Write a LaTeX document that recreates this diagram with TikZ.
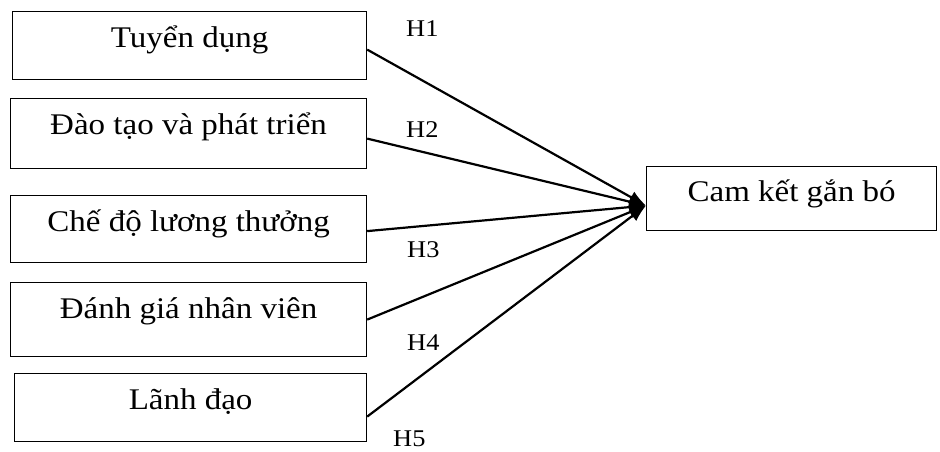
\documentclass[tikz,border=0pt]{standalone}
\usepackage{fontspec}
\setmainfont{Liberation Serif}
\newfontfamily\boxfont[FakeStretch=1.1]{Liberation Serif}
\usetikzlibrary{arrows.meta,positioning}
\tikzstyle{factor}=[
	rectangle,
	draw,
	line width=1.2pt,
	inner sep=0pt,
	anchor=north west,
	minimum width=356pt,
	text height=36pt,
	font=\boxfont\fontsize{30}{36}\selectfont
]
\tikzstyle{hyp}=[
	anchor=base west,
	inner sep=0pt,
	font=\boxfont\fontsize{24}{28}\selectfont
]
\tikzstyle{link}=[
	-{Latex[length=17pt,width=13pt]},
	line width=2.2pt
]

\begin{document}
\begin{tikzpicture}[x=1pt,y=-1pt]
\useasboundingbox (0,0) rectangle (940,451);
\node [factor, minimum width=354pt, text depth=32pt] (TuyenDung) at (12,11) {Tuyển dụng};
\node [factor, text depth=34pt] (DaoTao) at (10,98) {Đào tạo và phát triển};
\node [factor, text depth=31pt] (LuongThuong) at (10,195) {Chế độ lương thưởng};
\node [factor, text depth=38pt] (DanhGia) at (10,282) {Đánh giá nhân viên};
\node [factor, minimum width=352pt, text depth=32pt] (LanhDao) at (14,373) {Lãnh đạo};
\node [factor, minimum width=290pt, text height=35pt, text depth=29pt] (CamKet) at (646,166) {Cam kết gắn bó};
\coordinate (hub) at ([yshift=-7pt]CamKet.west);
% hypotheses
\node [hyp] (H1) at (406,36) {H1};
\node [hyp] (H2) at (406,137) {H2};
\node [hyp] (H3) at (407,257) {H3};
\node [hyp] (H4) at (407,350) {H4};
\node [hyp] (H5) at (393,446) {H5};
\draw [link] ([yshift=-4pt]TuyenDung.east) -- (hub);
\draw [link] ([yshift=-5pt]DaoTao.east) -- (hub);
\draw [link] ([yshift=-2pt]LuongThuong.east) -- (hub);
\draw [link] (DanhGia.east) -- (hub);
\draw [link] ([yshift=-9pt]LanhDao.east) -- (hub);
\end{tikzpicture}
\end{document}
